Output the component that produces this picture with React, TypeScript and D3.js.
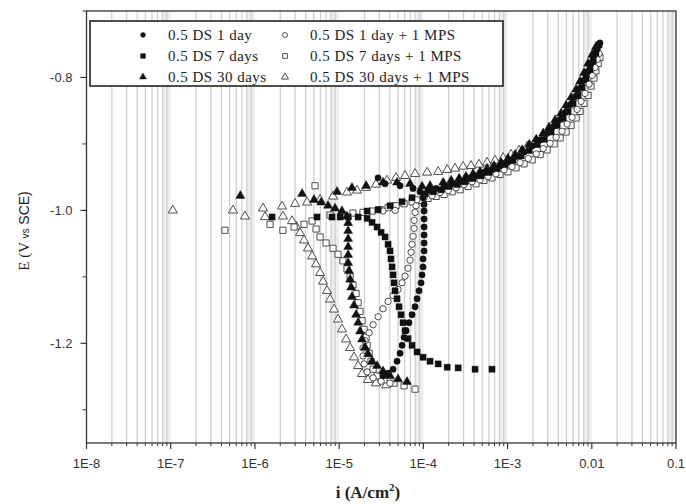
import React from "react";
import * as d3 from "d3";

type Pt = [number, number]; // [current density A/cm², potential V vs SCE]

const day1: Pt[] = [
  [3.32e-5, -1.249], [3.81e-5, -1.245], [4.37e-5, -1.239], [4.87e-5, -1.227], [5.29e-5, -1.215],
  [5.59e-5, -1.203], [5.9e-5, -1.191], [6.23e-5, -1.181], [6.76e-5, -1.169], [7.34e-5, -1.157],
  [7.97e-5, -1.145], [8.42e-5, -1.133], [8.89e-5, -1.121], [9.39e-5, -1.109], [9.65e-5, -1.097],
  [9.92e-5, -1.085], [9.92e-5, -1.073], [1.02e-4, -1.061], [1.02e-4, -1.049], [1.02e-4, -1.037],
  [1.02e-4, -1.025], [1.02e-4, -1.013], [1.02e-4, -1.001], [1.02e-4, -0.991], [9.92e-5, -0.981],
  [9.14e-5, -0.972], [7.55e-5, -0.967], [5.29e-5, -0.963], [3.51e-5, -0.96], [2.9e-5, -0.951],
  [1.14e-4, -0.97], [1.42e-4, -0.967], [1.76e-4, -0.964], [2.2e-4, -0.96], [2.73e-4, -0.957],
  [3.39e-4, -0.952], [4.22e-4, -0.948], [5.25e-4, -0.943], [6.53e-4, -0.939], [8.15e-4, -0.933],
  [1.01e-3, -0.927], [1.26e-3, -0.919], [1.57e-3, -0.912], [1.96e-3, -0.903], [2.44e-3, -0.894],
  [2.95e-3, -0.884], [3.57e-3, -0.873], [4.21e-3, -0.863], [4.95e-3, -0.852], [5.68e-3, -0.84],
  [6.51e-3, -0.828], [7.26e-3, -0.816], [8.1e-3, -0.804], [9.03e-3, -0.791], [9.8e-3, -0.779],
  [1.06e-2, -0.767], [1.16e-2, -0.757], [1.25e-2, -0.748],
];

const day7: Pt[] = [
  [6.53e-4, -1.239], [4.11e-4, -1.239], [2.59e-4, -1.237], [1.92e-4, -1.236], [1.5e-4, -1.231],
  [1.2e-4, -1.227], [9.92e-5, -1.221], [8.42e-5, -1.213], [7.34e-5, -1.203], [6.58e-5, -1.193],
  [6.06e-5, -1.181], [5.74e-5, -1.169], [5.44e-5, -1.157], [5.15e-5, -1.145], [4.87e-5, -1.133],
  [4.61e-5, -1.121], [4.49e-5, -1.109], [4.37e-5, -1.097], [4.25e-5, -1.085], [4.13e-5, -1.073],
  [4.02e-5, -1.061], [3.81e-5, -1.051], [3.51e-5, -1.04], [3.15e-5, -1.033], [2.82e-5, -1.025],
  [2.46e-5, -1.018], [2.15e-5, -1.012], [1.68e-5, -1.01], [1.28e-5, -1.01], [1.03e-5, -1.01],
  [8.23e-6, -1.01], [5.46e-6, -1.01], [1.6e-6, -1.01], [2.15e-5, -1.001], [2.9e-5, -0.999],
  [4.02e-5, -0.993], [5.59e-5, -0.987], [7.34e-5, -0.981],
  [1.05e-4, -0.975], [1.31e-4, -0.972], [1.63e-4, -0.969], [2.02e-4, -0.964], [2.52e-4, -0.961],
  [3.13e-4, -0.957], [3.89e-4, -0.952], [4.84e-4, -0.948], [6.02e-4, -0.943], [7.49e-4, -0.937],
  [9.34e-4, -0.931], [1.16e-3, -0.925], [1.45e-3, -0.918], [1.81e-3, -0.91], [2.25e-3, -0.901],
  [2.72e-3, -0.893], [3.29e-3, -0.882], [3.88e-3, -0.872], [4.56e-3, -0.861], [5.23e-3, -0.851],
  [6.0e-3, -0.839], [6.88e-3, -0.827], [7.67e-3, -0.815], [8.55e-3, -0.801], [9.54e-3, -0.788],
  [1.04e-2, -0.775], [1.12e-2, -0.763], [1.22e-2, -0.751],
];

const day30: Pt[] = [
  [6.4e-5, -1.258], [5.01e-5, -1.254], [4.02e-5, -1.249], [3.32e-5, -1.242], [2.82e-5, -1.234],
  [2.46e-5, -1.227], [2.2e-5, -1.216], [2.03e-5, -1.206], [1.87e-5, -1.194], [1.77e-5, -1.182],
  [1.68e-5, -1.169], [1.59e-5, -1.157], [1.5e-5, -1.143], [1.42e-5, -1.13], [1.39e-5, -1.116],
  [1.35e-5, -1.104], [1.31e-5, -1.091], [1.28e-5, -1.079], [1.28e-5, -1.067], [1.28e-5, -1.055],
  [1.28e-5, -1.043], [1.28e-5, -1.031], [1.28e-5, -1.019], [1.24e-5, -1.009], [1.08e-5, -1.001],
  [8.94e-6, -0.997], [7.38e-6, -0.993], [6.1e-6, -0.988], [5.03e-6, -0.984], [3.63e-6, -0.975],
  [6.7e-7, -0.978], [9.44e-6, -0.972], [1.42e-5, -0.966], [2.09e-5, -0.963], [3.32e-5, -0.958],
  [4.87e-5, -0.958], [6.95e-5, -0.96],
  [9.65e-5, -0.964], [1.2e-4, -0.963], [1.72e-4, -0.958], [2.14e-4, -0.955], [2.66e-4, -0.952],
  [3.21e-4, -0.949], [3.89e-4, -0.945], [4.71e-4, -0.942], [5.7e-4, -0.937], [6.9e-4, -0.933],
  [8.37e-4, -0.928], [1.01e-3, -0.922], [1.23e-3, -0.916], [1.49e-3, -0.909], [1.81e-3, -0.901],
  [2.19e-3, -0.893], [2.65e-3, -0.884], [3.11e-3, -0.875], [3.67e-3, -0.864], [4.32e-3, -0.854],
  [4.95e-3, -0.842], [5.68e-3, -0.83], [6.51e-3, -0.818], [7.26e-3, -0.806], [8.1e-3, -0.793],
  [9.03e-3, -0.779], [1.01e-2, -0.766], [1.12e-2, -0.754],
];

const day1Mps: Pt[] = [
  [4.02e-5, -1.26], [3.15e-5, -1.257], [2.53e-5, -1.252], [2.15e-5, -1.243], [1.98e-5, -1.231],
  [1.92e-5, -1.219], [1.92e-5, -1.207], [2.03e-5, -1.196], [2.27e-5, -1.184], [2.53e-5, -1.172],
  [2.9e-5, -1.16], [3.32e-5, -1.148], [3.81e-5, -1.137], [4.37e-5, -1.128], [5.01e-5, -1.119],
  [5.59e-5, -1.109], [6.06e-5, -1.099], [6.58e-5, -1.087], [6.95e-5, -1.075], [7.15e-5, -1.063],
  [7.34e-5, -1.051], [7.55e-5, -1.039], [7.76e-5, -1.027], [7.76e-5, -1.015], [7.97e-5, -1.003],
  [8.19e-5, -0.993], [8.42e-5, -0.984], [4.61e-5, -1.0], [3.32e-5, -1.001],
  [1.02e-4, -0.981], [1.27e-4, -0.978], [1.58e-4, -0.973], [1.97e-4, -0.97], [2.45e-4, -0.966],
  [3.04e-4, -0.961], [3.78e-4, -0.957], [4.71e-4, -0.954], [5.86e-4, -0.949], [7.28e-4, -0.945],
  [9.09e-4, -0.939], [1.13e-3, -0.934], [1.41e-3, -0.928], [1.76e-3, -0.922], [2.19e-3, -0.915],
  [2.65e-3, -0.907], [3.2e-3, -0.899], [3.77e-3, -0.89], [4.44e-3, -0.881], [5.09e-3, -0.87],
  [5.84e-3, -0.86], [6.69e-3, -0.848], [7.46e-3, -0.836], [8.32e-3, -0.824], [9.28e-3, -0.81],
  [1.01e-2, -0.797], [1.09e-2, -0.785], [1.16e-2, -0.773], [1.22e-2, -0.764],
];

const day7Mps: Pt[] = [
  [7.97e-5, -1.269], [5.9e-5, -1.264], [4.49e-5, -1.26], [3.41e-5, -1.255], [2.82e-5, -1.249],
  [2.53e-5, -1.239], [2.39e-5, -1.227], [2.27e-5, -1.215], [2.15e-5, -1.203], [2.09e-5, -1.191],
  [1.98e-5, -1.179], [1.87e-5, -1.166], [1.77e-5, -1.152], [1.68e-5, -1.139], [1.59e-5, -1.125],
  [1.46e-5, -1.112], [1.35e-5, -1.1], [1.24e-5, -1.088], [1.11e-5, -1.076], [9.7e-6, -1.066],
  [8.46e-6, -1.057], [6.99e-6, -1.049], [5.93e-6, -1.04], [5.32e-6, -1.028], [4.77e-6, -1.016],
  [3.83e-6, -1.021], [2.92e-6, -1.025], [2.15e-6, -1.03], [1.51e-6, -1.021], [4.4e-7, -1.03],
  [5.17e-6, -0.963],
  [7.8e-6, -1.007], [1.08e-5, -1.006], [1.46e-5, -1.004], [1.92e-5, -1.003], [2.46e-5, -1.001],
  [3.06e-5, -0.999], [3.81e-5, -0.996], [4.74e-5, -0.993], [5.9e-5, -0.99], [7.34e-5, -0.987],
  [9.14e-5, -0.985],
  [1.14e-4, -0.982], [1.42e-4, -0.979], [1.76e-4, -0.976], [2.2e-4, -0.972], [2.73e-4, -0.969],
  [3.39e-4, -0.964], [4.22e-4, -0.96], [5.25e-4, -0.955], [6.53e-4, -0.951], [8.15e-4, -0.946],
  [1.01e-3, -0.942], [1.26e-3, -0.936], [1.57e-3, -0.93], [1.96e-3, -0.924], [2.44e-3, -0.916],
  [2.95e-3, -0.909], [3.57e-3, -0.9], [4.21e-3, -0.891], [4.95e-3, -0.882], [5.68e-3, -0.872],
  [6.51e-3, -0.861], [7.26e-3, -0.851], [8.1e-3, -0.839], [9.03e-3, -0.827], [9.8e-3, -0.813],
  [1.06e-2, -0.801], [1.12e-2, -0.79], [1.19e-2, -0.779], [1.25e-2, -0.77],
];

const day30Mps: Pt[] = [
  [3.61e-5, -1.263], [2.74e-5, -1.26], [2.2e-5, -1.255], [1.87e-5, -1.246], [1.68e-5, -1.234],
  [1.5e-5, -1.221], [1.35e-5, -1.207], [1.21e-5, -1.194], [1.08e-5, -1.179], [9.7e-6, -1.164],
  [8.7e-6, -1.149], [7.8e-6, -1.134], [7.18e-6, -1.121], [6.44e-6, -1.107], [5.93e-6, -1.094],
  [5.32e-6, -1.081], [4.77e-6, -1.069], [4.27e-6, -1.057], [3.83e-6, -1.045], [3.43e-6, -1.034],
  [3.08e-6, -1.024], [2.76e-6, -1.016], [2.15e-6, -1.009], [1.32e-6, -1.01], [7.6e-7, -1.009],
  [5.5e-7, -1.0], [1.06e-7, -1.0],
  [1.25e-6, -0.997], [2.1e-6, -0.994], [3.0e-6, -0.99], [4.16e-6, -0.988], [5.93e-6, -0.984],
  [8.46e-6, -0.979], [1.24e-5, -0.973], [1.63e-5, -0.97], [2.09e-5, -0.966], [2.74e-5, -0.961],
  [3.71e-5, -0.955], [4.74e-5, -0.951], [6.06e-5, -0.948], [7.97e-5, -0.945], [1.11e-4, -0.943],
  [1.5e-4, -0.942], [1.92e-4, -0.939], [2.38e-4, -0.937], [2.96e-4, -0.934], [3.68e-4, -0.933],
  [4.58e-4, -0.931], [5.7e-4, -0.928], [7.09e-4, -0.925], [8.84e-4, -0.921], [1.1e-3, -0.916],
  [1.37e-3, -0.91], [1.71e-3, -0.904], [2.13e-3, -0.897], [2.58e-3, -0.89], [3.11e-3, -0.881],
  [3.67e-3, -0.872], [4.32e-3, -0.863], [4.95e-3, -0.852], [5.68e-3, -0.842], [6.51e-3, -0.83],
  [7.26e-3, -0.819], [8.1e-3, -0.807], [9.03e-3, -0.796], [9.8e-3, -0.784], [1.06e-2, -0.773],
  [1.16e-2, -0.764],
];

const legendLabels = [
  "0.5 DS 1 day",
  "0.5 DS 1 day + 1 MPS",
  "0.5 DS 7 days",
  "0.5 DS 7 days + 1 MPS",
  "0.5 DS 30 days",
  "0.5 DS 30 days + 1 MPS",
];

const xTickValues = [1e-8, 1e-7, 1e-6, 1e-5, 1e-4, 1e-3, 1e-2, 1e-1];
const xTickLabels = ["1E-8", "1E-7", "1E-6", "1E-5", "1E-4", "1E-3", "0.01", "0.1"];
const yTickValues = [-0.8, -1.0, -1.2];
const yTickLabels = ["-0.8", "-1.0", "-1.2"];
const yMinorValues = [-0.7, -0.9, -1.1, -1.3];

type Kind = "circle" | "square" | "triangle";

const W = 686;
const H = 504;
const left = 86.5;
const right = 676;
const top = 11;
const bottom = 443;

const x = d3.scaleLog().domain([1e-8, 0.1]).range([left, right]);
const y = d3.scaleLinear().domain([-1.35, -0.7]).range([bottom, top]);

const symbolOf = (k: Kind) =>
  k === "circle" ? d3.symbolCircle : k === "square" ? d3.symbolSquare : d3.symbolTriangle;

const sizeOf = (k: Kind, scale: number) =>
  (k === "circle" ? 32 : k === "square" ? 38 : 36) * scale;

function Marker({ cx, cy, kind, filled, scale = 1 }: { cx: number; cy: number; kind: Kind; filled: boolean; scale?: number }) {
  const d = d3.symbol().type(symbolOf(kind)).size(sizeOf(kind, scale))() as string;
  return (
    <path
      d={d}
      transform={`translate(${cx},${cy})`}
      fill={filled ? "#111" : "#fff"}
      stroke={filled ? "#111" : "#3a3a3a"}
      strokeWidth={filled ? 0.4 : 0.9}
    />
  );
}

// open-symbol series go down first so the solid ones sit on top
const seriesList: { data: Pt[]; kind: Kind; filled: boolean }[] = [
  { data: day30Mps, kind: "triangle", filled: false },
  { data: day7Mps, kind: "square", filled: false },
  { data: day1Mps, kind: "circle", filled: false },
  { data: day30, kind: "triangle", filled: true },
  { data: day7, kind: "square", filled: true },
  { data: day1, kind: "circle", filled: true },
];

export default function App() {
  const minorGrid: number[] = [];
  for (let e = -8; e <= -2; e++) {
    for (let m = 2; m <= 9; m++) minorGrid.push(m * Math.pow(10, e));
  }
  const bands: [number, number][] = [];
  for (let e = -8; e <= -2; e++) bands.push([8 * Math.pow(10, e), Math.pow(10, e + 1)]);

  const sans = "'Liberation Sans', Arial, sans-serif";
  const serif = "'Liberation Serif', 'Times New Roman', serif";

  const legendRows = [35, 56, 77];
  const legendKinds: Kind[] = ["circle", "square", "triangle"];

  return (
    <svg width={W} height={H} style={{ position: "absolute", left: 0, top: 0, background: "#fff" }}>
      {/* light vertical grid on the log minor positions */}
      <g>
        {bands.map(([a, b], k) => (
          <rect key={k} x={x(a)} y={top} width={x(b) - x(a)} height={bottom - top} fill="#eeeeee" />
        ))}
        {minorGrid.map((v, k) => (
          <line key={k} x1={x(v)} x2={x(v)} y1={top} y2={bottom} stroke="#d0d0d0" strokeWidth={1.3} />
        ))}
      </g>

      {/* data markers */}
      {seriesList.map((s, si) => (
        <g key={si}>
          {s.data.map(([i, e], k) => (
            <Marker key={k} cx={x(i)} cy={y(e)} kind={s.kind} filled={s.filled} />
          ))}
        </g>
      ))}

      {/* legend */}
      <g>
        <rect x={90} y={21} width={413} height={65} fill="#fff" stroke="#222" strokeWidth={1.6} />
        {legendRows.map((ry, r) => (
          <g key={r}>
            <Marker cx={143} cy={ry} kind={legendKinds[r]} filled={true} scale={0.6} />
            <text x={168} y={ry + 5} fontFamily={serif} fontSize={15} letterSpacing={0.5} fill="#222">
              {legendLabels[r * 2]}
            </text>
            <Marker cx={285} cy={ry} kind={legendKinds[r]} filled={false} scale={0.6} />
            <text x={310} y={ry + 5} fontFamily={serif} fontSize={15} letterSpacing={0.5} fill="#222">
              {legendLabels[r * 2 + 1]}
            </text>
          </g>
        ))}
      </g>

      {/* frame */}
      <rect x={left} y={top} width={right - left} height={bottom - top} fill="none" stroke="#333" strokeWidth={1.3} />

      {/* x axis ticks */}
      <g>
        {minorGrid.map((v, k) => (
          <line key={k} x1={x(v)} x2={x(v)} y1={bottom} y2={bottom + 3} stroke="#333" strokeWidth={1} />
        ))}
        {xTickValues.map((v, k) => (
          <g key={k}>
            <line x1={x(v)} x2={x(v)} y1={bottom} y2={bottom + 6} stroke="#333" strokeWidth={1.2} />
            <text x={x(v)} y={bottom + 25} textAnchor="middle" fontFamily={sans} fontSize={13} fill="#333">
              {xTickLabels[k]}
            </text>
          </g>
        ))}
      </g>

      {/* y axis ticks */}
      <g>
        {yMinorValues.map((v, k) => (
          <line key={k} x1={left - 4} x2={left} y1={y(v)} y2={y(v)} stroke="#333" strokeWidth={1} />
        ))}
        {yTickValues.map((v, k) => (
          <g key={k}>
            <line x1={left - 6} x2={left} y1={y(v)} y2={y(v)} stroke="#333" strokeWidth={1.2} />
            <text x={left - 14} y={y(v) + 4.5} textAnchor="end" fontFamily={sans} fontSize={13} fill="#333">
              {yTickLabels[k]}
            </text>
          </g>
        ))}
      </g>

      {/* axis titles */}
      <text transform="translate(29,231) rotate(-90)" textAnchor="middle" fill="#222">
        <tspan fontFamily={serif} fontSize={15}>E (V </tspan>
        <tspan fontFamily={sans} fontSize={10}>vs</tspan>
        <tspan fontFamily={sans} fontSize={14}> SCE)</tspan>
      </text>
      <text x={368} y={498} textAnchor="middle" fontFamily={serif} fontSize={17} fontWeight={600} fill="#222">
        i (A/cm
        <tspan fontSize={11} dy={-7}>2</tspan>
        <tspan dy={7}>)</tspan>
      </text>
    </svg>
  );
}
